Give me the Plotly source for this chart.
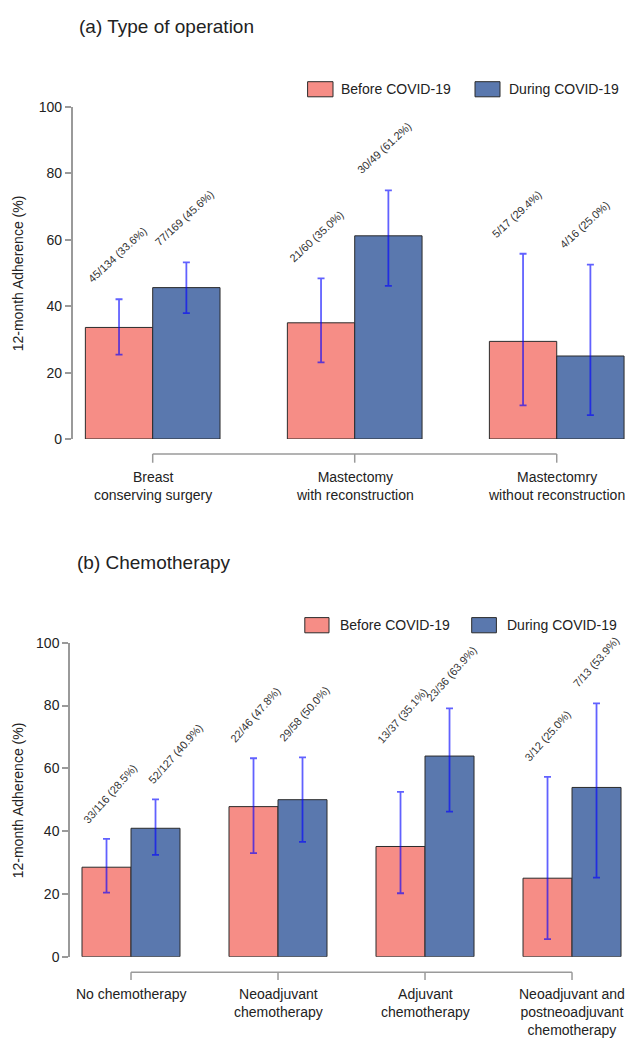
import plotly.graph_objects as go

# ---------------- data: (a) Type of operation ----------------
ops_categories = ["Breast<br>conserving surgery",
                  "Mastectomy<br>with reconstruction",
                  "Mastectomry<br>without reconstruction"]
ops_before_pct = [33.6, 35.0, 29.4]
ops_before_lo = [25.4, 23.1, 10.1]
ops_before_hi = [42.1, 48.4, 55.8]
ops_before_n = [45, 21, 5]
ops_before_N = [134, 60, 17]
ops_during_pct = [45.6, 61.2, 25.0]
ops_during_lo = [37.9, 46.1, 7.2]
ops_during_hi = [53.2, 74.9, 52.5]
ops_during_n = [77, 30, 4]
ops_during_N = [169, 49, 16]

# ---------------- data: (b) Chemotherapy ----------------
chemo_categories = ["No chemotherapy",
                    "Neoadjuvant<br>chemotherapy",
                    "Adjuvant<br>chemotherapy",
                    "Neoadjuvant and<br>postneoadjuvant<br>chemotherapy"]
chemo_before_pct = [28.5, 47.8, 35.1, 25.0]
chemo_before_lo = [20.4, 33.0, 20.2, 5.6]
chemo_before_hi = [37.5, 63.2, 52.5, 57.3]
chemo_before_n = [33, 22, 13, 3]
chemo_before_N = [116, 46, 37, 12]
chemo_during_pct = [40.9, 50.0, 63.9, 53.9]
chemo_during_lo = [32.4, 36.6, 46.2, 25.2]
chemo_during_hi = [50.1, 63.5, 79.1, 80.7]
chemo_during_n = [52, 29, 23, 7]
chemo_during_N = [127, 58, 36, 13]

y_ticks = [0, 20, 40, 60, 80, 100]
series_names = ["Before COVID-19", "During COVID-19"]

# ---------------- styles ----------------
W, H = 625, 1038
FONT = "Liberation Sans, Arial, Helvetica, sans-serif"
C_BEFORE = "#F68D86"
C_DURING = "#5A78AE"
C_EDGE = "#2b2b2b"
C_ERR = "rgba(0,0,255,0.62)"
C_AXIS = "#9a9a9a"
C_TEXT = "#222222"
LABEL_GAP = 4.0
LABEL_DX = -0.14
# manual label placements used in the original (panel, group, series): (dx, lift)
label_override = {("b", 0, 1): (-0.03, 4.0),
                  ("b", 2, 0): (-0.14, 14.4),
                  ("b", 2, 1): (-0.14, 1.2)}


def py(px):
    """pixel row -> paper fraction"""
    return (H - px) / H


def px_x(px):
    return px / W


panels = [
    dict(key="a", xa="x", ya="y", cats=ops_categories, angle=-43,
         before=(ops_before_pct, ops_before_lo, ops_before_hi, ops_before_n, ops_before_N),
         during=(ops_during_pct, ops_during_lo, ops_during_hi, ops_during_n, ops_during_N),
         xdom=[px_x(72.7), 1.0], xrange=[-0.396, 2.338], ydom=[py(439), py(107)],
         title="(a) Type of operation", title_xy=(77, 26),
         leg=dict(y0=81.7, y1=96.8, b=(307.6, 333, 338.6), d=(475, 500, 507)),
         bracket_y=454, tick_y=462.7, lab_top=466.5, ytitle_y=273),
    dict(key="b", xa="x2", ya="y2", cats=chemo_categories, angle=-48.5,
         before=(chemo_before_pct, chemo_before_lo, chemo_before_hi, chemo_before_n, chemo_before_N),
         during=(chemo_during_pct, chemo_during_lo, chemo_during_hi, chemo_during_n, chemo_during_N),
         xdom=[px_x(70), px_x(622)], xrange=[-0.415, 3.340], ydom=[py(956.7), py(642.7)],
         title="(b) Chemotherapy", title_xy=(74.5, 562),
         leg=dict(y0=617.6, y1=632.8, b=(304.8, 329, 338), d=(471.7, 496.4, 505)),
         bracket_y=972.3, tick_y=980, lab_top=983.8, ytitle_y=800),
]

fig = go.Figure()
shapes = []
annotations = []
layout_axes = {}

for p in panels:
    n = len(p["cats"])
    xs = list(range(n))
    for si, (sname, data, color, off) in enumerate([
            (series_names[0], p["before"], C_BEFORE, -1 / 6),
            (series_names[1], p["during"], C_DURING, 1 / 6)]):
        pct, lo, hi, num, den = data
        fig.add_trace(go.Bar(
            x=xs, y=pct, name=sname, xaxis=p["xa"], yaxis=p["ya"],
            marker=dict(color=color, line=dict(color=C_EDGE, width=1)),
            error_y=dict(type="data", symmetric=False,
                         array=[h - v for h, v in zip(hi, pct)],
                         arrayminus=[v - l for v, l in zip(pct, lo)],
                         color=C_ERR, thickness=1.8, width=3.5),
            showlegend=False, hoverinfo="skip"))
        for i in range(n):
            dx, lift = label_override.get((p["key"], i, si), (LABEL_DX, LABEL_GAP))
            annotations.append(dict(
                x=i + off + dx, y=hi[i] + lift, xref=p["xa"], yref=p["ya"],
                text=f"{num[i]}/{den[i]} ({pct[i]:.1f}%)", textangle=p["angle"],
                xanchor="left", yanchor="bottom", xshift=-8, yshift=-2,
                showarrow=False, font=dict(family=FONT, size=11, color="#333333")))

    # axes
    xname = "xaxis" if p["xa"] == "x" else "xaxis2"
    yname = "yaxis" if p["ya"] == "y" else "yaxis2"
    layout_axes[xname] = dict(domain=p["xdom"], range=p["xrange"], anchor=p["ya"],
                              visible=False, showgrid=False, zeroline=False,
                              fixedrange=True)
    layout_axes[yname] = dict(domain=p["ydom"], range=[0, 100], anchor=p["xa"],
                              tickvals=y_ticks, showline=True, linecolor=C_AXIS,
                              linewidth=1.5, ticks="outside", ticklen=6,
                              tickcolor=C_AXIS, tickwidth=1.5, showgrid=False,
                              zeroline=False, automargin=False,
                              tickfont=dict(family=FONT, size=14, color=C_TEXT))

    # bracket under categories
    shapes.append(dict(type="line", xref=p["xa"], yref="paper", x0=0, x1=n - 1,
                       y0=py(p["bracket_y"]), y1=py(p["bracket_y"]),
                       line=dict(color=C_AXIS, width=1.5)))
    for i in range(n):
        shapes.append(dict(type="line", xref=p["xa"], yref="paper", x0=i, x1=i,
                           y0=py(p["bracket_y"]), y1=py(p["tick_y"]),
                           line=dict(color=C_AXIS, width=1.5)))
        annotations.append(dict(x=i, y=py(p["lab_top"]), xref=p["xa"], yref="paper",
                                text=p["cats"][i], showarrow=False, xanchor="center",
                                yanchor="top", align="center",
                                font=dict(family=FONT, size=14, color=C_TEXT)))

    # y axis title
    annotations.append(dict(x=px_x(18.3), y=py(p["ytitle_y"]), xref="paper", yref="paper",
                            text="12-month Adherence (%)", textangle=-90, showarrow=False,
                            xanchor="center", yanchor="middle",
                            font=dict(family=FONT, size=14, color=C_TEXT)))
    # panel title
    tx, ty = p["title_xy"]
    annotations.append(dict(x=px_x(tx), y=py(ty), xref="paper", yref="paper",
                            text=p["title"], showarrow=False, xanchor="left",
                            yanchor="middle", font=dict(family=FONT, size=19, color=C_TEXT)))
    # legend
    lg = p["leg"]
    for (x0, x1, tx0), col, name in [(lg["b"], C_BEFORE, series_names[0]),
                                     (lg["d"], C_DURING, series_names[1])]:
        shapes.append(dict(type="rect", xref="paper", yref="paper",
                           x0=px_x(x0), x1=px_x(x1), y0=py(lg["y1"]), y1=py(lg["y0"]),
                           fillcolor=col, line=dict(color=C_EDGE, width=1)))
        annotations.append(dict(x=px_x(tx0), y=py((lg["y0"] + lg["y1"]) / 2),
                                xref="paper", yref="paper", text=name, showarrow=False,
                                xanchor="left", yanchor="middle",
                                font=dict(family=FONT, size=14, color=C_TEXT)))

fig.update_layout(
    template="none",
    width=W, height=H,
    margin=dict(l=0, r=0, t=0, b=0, pad=0),
    paper_bgcolor="white", plot_bgcolor="white",
    barmode="group", bargap=1 / 3, bargroupgap=0,
    showlegend=False,
    shapes=shapes, annotations=annotations,
    font=dict(family=FONT, color=C_TEXT),
    **layout_axes,
)

fig.write_html("out.html")
